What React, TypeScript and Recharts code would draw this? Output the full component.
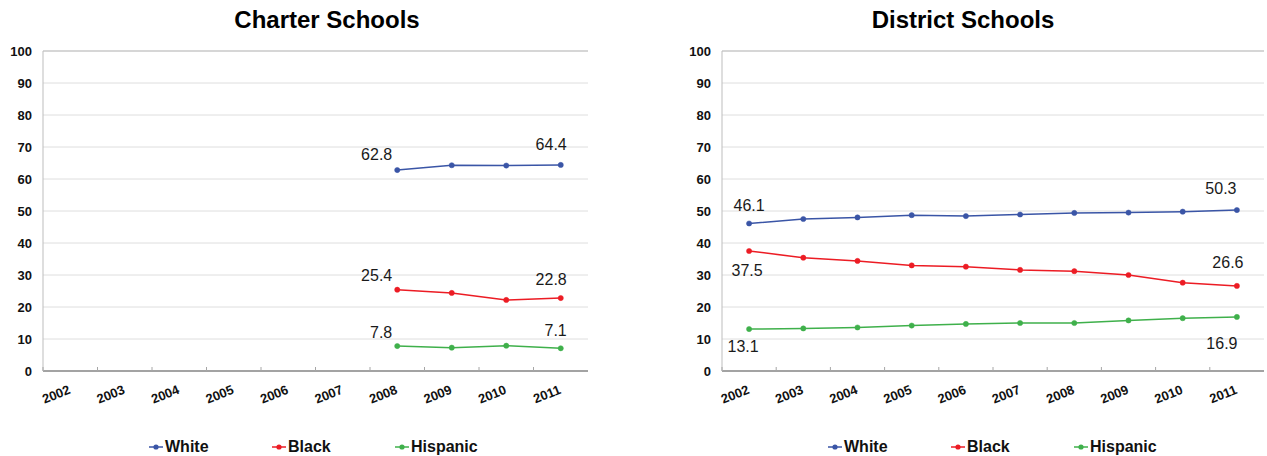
import React from "react";
import {
  LineChart,
  Line,
  XAxis,
  YAxis,
  CartesianGrid,
  ReferenceLine,
  Legend,
  LabelList,
} from "recharts";

const years = ["2002", "2003", "2004", "2005", "2006", "2007", "2008", "2009", "2010", "2011"];
const yTicks = [0, 10, 20, 30, 40, 50, 60, 70, 80, 90, 100];

const charterWhite = [null, null, null, null, null, null, 62.8, 64.3, 64.2, 64.4];
const charterBlack = [null, null, null, null, null, null, 25.4, 24.4, 22.2, 22.8];
const charterHispanic = [null, null, null, null, null, null, 7.8, 7.3, 7.9, 7.1];

const districtWhite = [46.1, 47.5, 48.0, 48.7, 48.4, 48.9, 49.4, 49.5, 49.8, 50.3];
const districtBlack = [37.5, 35.4, 34.4, 33.0, 32.6, 31.6, 31.2, 30.0, 27.6, 26.6];
const districtHispanic = [13.1, 13.3, 13.6, 14.2, 14.7, 15.0, 15.0, 15.8, 16.5, 16.9];

const seriesNames = ["White", "Black", "Hispanic"];
const colors: Record<string, string> = {
  White: "#3a55a6",
  Black: "#ec1c24",
  Hispanic: "#3fb04b",
};

const FONT = "'Liberation Sans', Arial, sans-serif";

type LabelPos = { dx: number; dy: number; anchor: "start" | "middle" | "end" };
type LabelCfg = Record<string, { first: LabelPos; last: LabelPos }>;

const charterLabels: LabelCfg = {
  White: { first: { dx: -5, dy: -16, anchor: "end" }, last: { dx: 6, dy: -20, anchor: "end" } },
  Black: { first: { dx: -5, dy: -14, anchor: "end" }, last: { dx: 6, dy: -19, anchor: "end" } },
  Hispanic: { first: { dx: -5, dy: -14, anchor: "end" }, last: { dx: 6, dy: -18, anchor: "end" } },
};

const districtLabels: LabelCfg = {
  White: { first: { dx: 0, dy: -18, anchor: "middle" }, last: { dx: -16, dy: -22, anchor: "middle" } },
  Black: { first: { dx: -2, dy: 19, anchor: "middle" }, last: { dx: -9, dy: -23, anchor: "middle" } },
  Hispanic: { first: { dx: -6, dy: 17, anchor: "middle" }, last: { dx: -15, dy: 27, anchor: "middle" } },
};

function buildRows(white: (number | null)[], black: (number | null)[], hispanic: (number | null)[]) {
  return years.map((year, i) => ({
    year,
    White: white[i],
    Black: black[i],
    Hispanic: hispanic[i],
  }));
}

const charterRows = buildRows(charterWhite, charterBlack, charterHispanic);
const districtRows = buildRows(districtWhite, districtBlack, districtHispanic);

const YearTick = (props: any) => {
  const { x, y, payload, width, visibleTicksCount } = props;
  let half = 0;
  if (payload && typeof payload.offset === "number" && payload.offset > 0) half = payload.offset;
  else if (width && visibleTicksCount) half = width / visibleTicksCount / 2;
  return (
    <g>
      {half > 0 && (
        <line x1={x - half} x2={x - half} y1={y - 4} y2={y} stroke="#a6a6a6" strokeWidth={1} />
      )}
      <text
        x={x + 1}
        y={y + 22}
        textAnchor="end"
        transform={`rotate(-22, ${x + 1}, ${y + 22})`}
        fontFamily={FONT}
        fontSize={13}
        fontWeight="bold"
        fill="#111"
      >
        {payload.value}
      </text>
    </g>
  );
};

const LegendContent = () => (
  <div
    style={{
      height: 30,
      paddingTop: 12,
      boxSizing: "border-box",
      paddingLeft: 149,
      display: "flex",
      fontFamily: FONT,
      fontSize: 16,
      fontWeight: "bold",
      lineHeight: "18px",
      color: "#111",
    }}
  >
    {seriesNames.map((name) => (
      <div key={name} style={{ width: name === "Hispanic" ? "auto" : 123, display: "flex", alignItems: "center" }}>
        <svg width={15} height={10} style={{ marginRight: 1 }}>
          <line x1={0} x2={14} y1={5} y2={5} stroke={colors[name]} strokeWidth={1.5} />
          <circle cx={7} cy={5} r={2.6} fill={colors[name]} />
        </svg>
        <span>{name}</span>
      </div>
    ))}
  </div>
);

function makeLabel(name: string, cfg: LabelCfg, firstIndex: number) {
  return (props: any) => {
    const { x, y, value, index } = props;
    if (value == null) return null;
    let pos: LabelPos | null = null;
    if (index === firstIndex) pos = cfg[name].first;
    else if (index === years.length - 1) pos = cfg[name].last;
    if (!pos) return null;
    return (
      <text
        x={x + pos.dx}
        y={y + pos.dy + 5.5}
        textAnchor={pos.anchor}
        fontFamily={FONT}
        fontSize={16}
        fill="#1a1a1a"
      >
        {Number(value).toFixed(1)}
      </text>
    );
  };
}

type ChartProps = {
  rows: any[];
  labels: LabelCfg;
  firstIndex: number;
  marginRight: number;
};

function SchoolChart({ rows, labels, firstIndex, marginRight }: ChartProps) {
  return (
    <LineChart
      width={600}
      height={456}
      data={rows}
      margin={{ top: 51, right: marginRight, bottom: 0, left: 0 }}
    >
      <CartesianGrid horizontal vertical={false} stroke="#dedede" />
      <ReferenceLine y={100} stroke="#bdbdbd" />
      <XAxis
        dataKey="year"
        scale="band"
        interval={0}
        height={55}
        tickSize={0}
        tickMargin={0}
        tickLine={false}
        axisLine={{ stroke: "#8a8a8a", strokeWidth: 1.5 }}
        tick={<YearTick />}
      />
      <YAxis
        domain={[0, 100]}
        ticks={yTicks}
        width={43}
        tickSize={0}
        tickMargin={11}
        tickLine={false}
        axisLine={{ stroke: "#bdbdbd" }}
        tick={{ fontFamily: FONT, fontSize: 13, fontWeight: "bold", fill: "#111" }}
      />
      <YAxis
        yAxisId="frame"
        orientation="right"
        domain={[0, 100]}
        width={0}
        tick={false}
        tickLine={false}
        axisLine={{ stroke: "#bdbdbd" }}
      />
      <Legend verticalAlign="bottom" height={30} content={<LegendContent />} />
      {seriesNames.map((name) => (
        <Line
          key={name}
          type="linear"
          dataKey={name}
          stroke={colors[name]}
          strokeWidth={1.5}
          dot={{ r: 2.6, fill: colors[name], stroke: colors[name], strokeWidth: 0.5 }}
          activeDot={false}
          isAnimationActive={false}
          legendType="line"
        >
          <LabelList dataKey={name} content={makeLabel(name, labels, firstIndex)} />
        </Line>
      ))}
    </LineChart>
  );
}

const titleStyle: React.CSSProperties = {
  position: "absolute",
  top: 6,
  width: 300,
  textAlign: "center",
  fontFamily: FONT,
  fontSize: 24,
  fontWeight: "bold",
  color: "#000",
  lineHeight: "28px",
};

export default function App() {
  return (
    <div
      style={{
        position: "absolute",
        left: 0,
        top: 0,
        width: 1267,
        height: 456,
        overflow: "hidden",
        background: "#fff",
      }}
    >
      <div style={{ ...titleStyle, left: 327 - 150 }}>Charter Schools</div>
      <div style={{ ...titleStyle, left: 963 - 150 }}>District Schools</div>
      <div style={{ position: "absolute", left: 0, top: 0 }}>
        <SchoolChart rows={charterRows} labels={charterLabels} firstIndex={6} marginRight={12} />
      </div>
      <div style={{ position: "absolute", left: 679, top: 0 }}>
        <SchoolChart rows={districtRows} labels={districtLabels} firstIndex={0} marginRight={15} />
      </div>
    </div>
  );
}
